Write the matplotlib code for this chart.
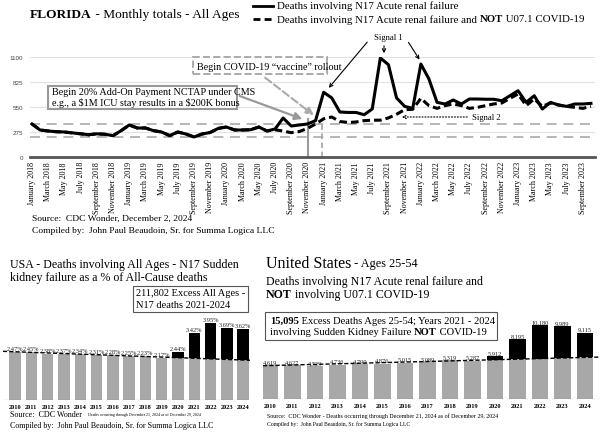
import numpy as np
import matplotlib
matplotlib.use('Agg')
import matplotlib.pyplot as plt
from matplotlib.patches import Rectangle

plt.rcParams['font.family'] = ['Liberation Serif', 'DejaVu Serif']

W, H = 600, 435

# Florida, monthly totals Jan 2018 - Oct 2023
month_names = ['January', 'February', 'March', 'April', 'May', 'June', 'July',
               'August', 'September', 'October', 'November', 'December']
month_labels = [m + ' ' + str(y) for y in range(2018, 2024) for m in month_names][:70]

n17_all = [363, 297, 286, 278, 275, 265, 255, 245, 255, 250, 235, 290,
           352, 319, 319, 290, 275, 235, 275, 253, 220, 253, 270, 315,
           330, 297, 297, 300, 330, 286, 308, 429, 341, 352, 363, 400,
           712, 650, 495, 490, 490, 465, 528, 1090, 1015, 650, 557, 535,
           1023, 858, 601, 583, 627, 583, 638, 638, 635, 635, 619, 674,
           729, 601, 674, 528, 601, 572, 557, 583, 583, 590]
n17_not_covid = n17_all[:30] + [300, 285, 268, 280, 315, 363,
                                420, 440, 390, 380, 385, 400, 405, 405, 430, 470, 520, 525,
                                645, 565, 535, 565, 583, 565, 535, 546, 565, 583, 594, 645,
                                693, 565, 638, 557, 594, 572, 557, 546, 535, 557]
band_hi, band_lo = 368, 218
nctap_month = 34.05
vaccine_month = 35.75

# USA all ages, % of all-cause deaths
years = list(range(2010, 2025))
usa_pct = [2.47, 2.45, 2.38, 2.37, 2.34, 2.31, 2.28, 2.25, 2.23, 2.17, 2.44, 3.42, 3.95, 3.69, 3.62]
usa_trend = [2.47, 2.44, 2.41, 2.38, 2.35, 2.32, 2.29, 2.26, 2.23, 2.20, 2.15, 2.13, 2.10, 2.08, 2.05]

# USA ages 25-54, N17 and not U07.1
us_deaths = [4619, 4627, 4529, 4736, 4799, 4876, 5015, 5089, 5319, 5287, 5912, 8195, 10180, 9989, 9115]
us_trend = [4600, 4680, 4760, 4840, 4920, 5000, 5080, 5160, 5240, 5320, 5400, 5470, 5560, 5640, 5714]

fig = plt.figure(figsize=(6, 4.35), dpi=100)


def rect(x0, y0, x1, y1):
    return [x0 / W, 1 - y1 / H, (x1 - x0) / W, (y1 - y0) / H]


def text(x, y, s, size, **kw):
    return fig.text(x / W, 1 - y / H, s, fontsize=size, va='center', **kw)


# pieces of text set one after the other (for bold words inside a line)
def rich(x, y, parts, size):
    r = fig.canvas.get_renderer()
    for part in parts:
        s, weight = part[0], part[1]
        sz = part[2] if len(part) > 2 else size
        t = text(x, y, s, sz, fontweight=weight)
        x += t.get_window_extent(renderer=r).width


def frame(x0, y0, x1, y1, **kw):
    fig.patches.append(Rectangle((x0 / W, 1 - y1 / H), (x1 - x0) / W, (y1 - y0) / H,
                                 transform=fig.transFigure, facecolor='white', **kw))


def arrow(ax, p0, p1, **kw):
    ax.annotate('', xy=(p1[0], H - p1[1]), xycoords='figure pixels',
                xytext=(p0[0], H - p0[1]), textcoords='figure pixels',
                arrowprops=kw, annotation_clip=False)


# ---- top chart ----
ax = fig.add_axes(rect(30, 58, 595, 158))
x = np.arange(len(n17_all))
ax.set_xlim(-0.25, 69.5)
ax.set_ylim(0, 1100)
ax.set_yticks([0, 275, 550, 825, 1100])
ax.grid(axis='y', color='#e2e2e2', lw=0.8)
ax.set_axisbelow(True)
for s in ['top', 'right', 'left']:
    ax.spines[s].set_visible(False)
ax.spines['bottom'].set_color('#555555')
ax.spines['bottom'].set_linewidth(2)
ax.tick_params(axis='y', length=0, labelsize=4.5, labelcolor='#444444', pad=5)
for lab in ax.get_yticklabels():
    lab.set_family('Liberation Sans')
ax.set_xticks(x[::2])
ax.set_xticklabels(month_labels[::2], rotation=90, fontsize=5.8)
ax.tick_params(axis='x', length=0, pad=3)

ax.axhline(band_hi, color='#aaaaaa', lw=1.2, dashes=(6, 4))
ax.axhline(band_lo, color='#aaaaaa', lw=1.2, dashes=(6, 4))
ax.plot([nctap_month, nctap_month], [0, 420], color='#999999', lw=1.5)
ax.plot([vaccine_month, vaccine_month], [0, 390], color='#aaaaaa', lw=1.3, dashes=(3, 2))

ax.plot(x, n17_not_covid, color='black', lw=2.2, dashes=(2.5, 1.3))
ax.plot(x, n17_all, color='black', lw=2.2)

rich(30, 15, [('FLORIDA', 'bold'), (' - Monthly totals - All Ages', 'normal')], 9.6)

# legend
fig.lines.append(plt.Line2D([253 / W, 273 / W], [1 - 6.5 / H] * 2, color='black', lw=2,
                            transform=fig.transFigure))
fig.lines.append(plt.Line2D([253 / W, 273 / W], [1 - 20 / H] * 2, color='black', lw=2,
                            dashes=(2.5, 1.5), transform=fig.transFigure))
text(277, 6.5, 'Deaths involving N17 Acute renal failure', 7.8)
rich(277, 20, [('Deaths involving N17 Acute renal failure and ', 'normal'), ('NOT', 'bold'),
               (' U07.1 COVID-19', 'normal')], 7.8)

# annotation boxes
frame(48, 87, 237, 110, edgecolor='#999999', lw=1.5)
text(52, 92.5, 'Begin 20% Add-On Payment NCTAP under CMS', 7.3)
text(52, 103.5, 'e.g., a \\$1M ICU stay results in a \\$200K bonus', 7.3)
arrow(ax, (237, 96), (305, 121), arrowstyle='-|>', color='#999999', lw=1.6, mutation_scale=11)

frame(193, 58, 327, 75, edgecolor='#aaaaaa', lw=1.4, ls='--')
text(197, 67, 'Begin COVID-19 \u201cvaccine\u201d rollout', 7.3)
arrow(ax, (263, 77), (316, 118), arrowstyle='-|>', color='#aaaaaa', lw=1.5, ls='--',
      mutation_scale=11)

text(388, 38, 'Signal 1', 6.2, ha='center')
arrow(ax, (369, 41), (327, 91), arrowstyle='->', color='black', lw=0.8, mutation_scale=6)
arrow(ax, (384, 44), (384, 57), arrowstyle='->', color='black', lw=0.8, mutation_scale=6)
arrow(ax, (407, 41), (421, 63), arrowstyle='->', color='black', lw=0.8, mutation_scale=6)

text(486, 118, 'Signal 2', 6.2, ha='center')
arrow(ax, (470, 118), (399, 118), arrowstyle='->', color='black', lw=0.8, ls=':',
      mutation_scale=6)

text(32, 219, 'Source:  CDC Wonder, December 2, 2024', 6.8)
text(32, 231, 'Compiled by:  John Paul Beaudoin, Sr. for Summa Logica LLC', 6.8)

# ---- bottom left ----
gray = '#a8a8a8'
pos = np.arange(len(years))
axl = fig.add_axes(rect(3, 300, 250, 400.7))
axl.set_xlim(-0.74, 14.42)
axl.set_ylim(0, 5.19)
base_l = [v if y < 2020 else t for y, v, t in zip(years, usa_pct, usa_trend)]
exc_l = [v - b for v, b in zip(usa_pct, base_l)]
axl.bar(pos, base_l, width=0.7, color=gray)
axl.bar(pos, exc_l, bottom=base_l, width=0.7, color='black')
coef = np.polyfit(pos, usa_trend, 1)
xs = np.array(axl.get_xlim())
axl.plot(xs, np.polyval(coef, xs), color='black', lw=1, dashes=(3, 1.5))
axl.axhline(0, color='#666666', lw=0.8)
for p, v in zip(pos, usa_pct):
    axl.text(p, v + 0.05, f'{v:.2f}%', ha='center', va='bottom', fontsize=4.6, color='#222222')
axl.set_xticks(pos)
axl.set_xticklabels(years, fontsize=4.6, fontweight='bold')
axl.tick_params(axis='x', length=0, pad=3)
axl.set_yticks([])
for s in axl.spines.values():
    s.set_visible(False)

text(10, 265, 'USA - Deaths involving All Ages - N17 Sudden', 8.6)
text(10, 277.5, 'kidney failure as a % of All-Cause deaths', 8.6)
frame(133, 287, 248, 313, edgecolor='#555555', lw=0.8)
text(136, 293.5, '211,802 Excess All Ages -', 7.5)
text(136, 305.5, 'N17 deaths 2021-2024', 7.5)
text(10, 415, 'Source:  CDC Wonder', 5.8)
text(88, 415, 'Deaths occurring through December 21, 2024 as of December 29, 2024', 2.9)
text(10, 426, 'Compiled by:  John Paul Beaudoin, Sr. for Summa Logica LLC', 5.8)

# ---- bottom right ----
axr = fig.add_axes(rect(263, 320, 600, 400))
axr.set_xlim(-0.31, 14.67)
axr.set_ylim(0, 11000)
base_r = [v if y < 2020 else t for y, v, t in zip(years, us_deaths, us_trend)]
exc_r = [v - b for v, b in zip(us_deaths, base_r)]
axr.bar(pos, base_r, width=0.74, color=gray)
axr.bar(pos, exc_r, bottom=base_r, width=0.74, color='black')
coef = np.polyfit(pos, us_trend, 1)
xs = np.array(axr.get_xlim())
axr.plot(xs, np.polyval(coef, xs), color='black', lw=1, dashes=(3, 1.5))
axr.axhline(0, color='#666666', lw=0.8)
for p, v in zip(pos, us_deaths):
    axr.text(p, v + 120, f'{v:,}', ha='center', va='bottom', fontsize=4.6, color='#222222')
axr.set_xticks(pos)
axr.set_xticklabels(years, fontsize=4.6, fontweight='bold')
axr.tick_params(axis='x', length=0, pad=3)
axr.set_yticks([])
for s in axr.spines.values():
    s.set_visible(False)

rich(266, 264, [('United States', 'normal', 11.5), (' - Ages 25-54', 'normal', 8.8)], 11.5)
text(266, 281.5, 'Deaths involving N17 Acute renal failure and', 8.6)
rich(266, 295, [('NOT', 'bold'), (' involving U07.1 COVID-19', 'normal')], 8.6)
frame(265, 313, 497, 341, edgecolor='#555555', lw=0.8)
rich(270, 321, [('15,095', 'bold'), (' Excess Deaths Ages 25-54; Years 2021 - 2024', 'normal')], 7.6)
rich(270, 333, [('involving Sudden Kidney Failure ', 'normal'), ('NOT', 'bold'),
                (' COVID-19', 'normal')], 7.6)
text(267, 416, 'Source:  CDC Wonder - Deaths occurring through December 21, 2024 as of December 29, 2024', 4.3)
text(267, 424.5, 'Compiled by:  John Paul Beaudoin, Sr. for Summa Logica LLC', 4.1)

fig.savefig('out.png', dpi=100)
